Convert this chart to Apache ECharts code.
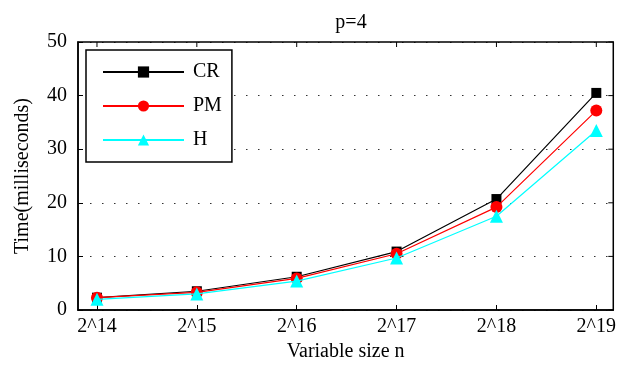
<!DOCTYPE html>
<html><head><meta charset="utf-8">
<script src="https://cdn.jsdelivr.net/npm/echarts@6/dist/echarts.min.js"></script>
<style>html,body{margin:0;padding:0;background:#fff}#c{width:619px;height:368px}</style>
</head><body><div id="c"></div>
<script>
var categories = ['2^14','2^15','2^16','2^17','2^18','2^19'];
var crValues = [2.3, 3.5, 6.2, 10.9, 20.7, 40.5];
var pmValues = [2.3, 3.3, 5.9, 10.5, 19.2, 37.2];
var hValues  = [2.0, 3.0, 5.4, 9.7, 17.5, 33.5];
var yTicks = [0, 10, 20, 30, 40, 50];

var font = 'Liberation Serif';
var xMin = -0.19, xMax = 5.17, yMin = 0, yMax = 50;
var idx = categories.map(function(_, i){ return i; });
function pts(arr){ return arr.map(function(v, i){ return [i, v]; }); }
function axLine(){ return {show: true, onZero: false, lineStyle: {color: '#000', width: 1.5}}; }
function tk(custom){
  var t = {show: true, inside: true, length: 5, lineStyle: {color: '#000', width: 1}};
  if (custom) t.customValues = custom;
  return t;
}

var chart = echarts.init(document.getElementById('c'));
chart.setOption({
  animation: false,
  title: {text: 'p=4', left: 346, textAlign: 'center', top: 8,
    textStyle: {fontFamily: font, fontSize: 20, fontWeight: 'normal', color: '#000'}},
  grid: {left: 78, right: 4, top: 42, bottom: 58},
  legend: {
    orient: 'vertical', left: 86, top: 50,
    padding: [12, 10, 12, 16],
    itemWidth: 81, itemHeight: 14, itemGap: 14,
    borderColor: '#000', borderWidth: 1.5, backgroundColor: '#fff',
    textStyle: {fontFamily: font, fontSize: 20, color: '#000', padding: [0,0,0,4]},
    data: ['CR', 'PM', 'H']
  },
  xAxis: [{
    type: 'value', min: xMin, max: xMax, position: 'bottom',
    axisLine: axLine(), axisTick: tk(idx),
    axisLabel: {customValues: idx, formatter: function(v){ return categories[Math.round(v)]; },
      fontFamily: font, fontSize: 20, color: '#000', margin: 7},
    splitLine: {show: false},
    name: 'Variable size n', nameLocation: 'middle', nameGap: 31,
    nameTextStyle: {fontFamily: font, fontSize: 20, color: '#000'}
  }],
  yAxis: [{
    type: 'value', min: yMin, max: yMax, splitNumber: 5, position: 'left',
    axisLine: axLine(), axisTick: tk(),
    axisLabel: {fontFamily: font, fontSize: 20, color: '#000', margin: 11,
      formatter: function(v){ return yTicks.indexOf(v) >= 0 ? String(v) : ''; }},
    splitLine: {show: true, lineStyle: {color: '#333', width: 1.2, type: [1.5, 10.5]}},
    name: 'Time(milliseconds)', nameLocation: 'middle', nameGap: 45,
    nameTextStyle: {fontFamily: font, fontSize: 20, color: '#000'}
  }],
  series: [{
    name: 'CR', type: 'line', data: pts(crValues), symbol: 'rect', symbolSize: 10,
    lineStyle: {color: '#000', width: 1.2}, itemStyle: {color: '#000'}, z: 3
  }, {
    name: 'PM', type: 'line', data: pts(pmValues), symbol: 'circle', symbolSize: 12,
    lineStyle: {color: '#ff0000', width: 1.2}, itemStyle: {color: '#ff0000'}, z: 4
  }, {
    name: 'H', type: 'line', data: pts(hValues), symbol: 'triangle', symbolSize: 13,
    lineStyle: {color: '#00ffff', width: 1.2}, itemStyle: {color: '#00ffff'}, z: 5
  }]
});

// Frame (top/right axis lines with inside ticks), placed through the chart's own scales
var f = {seriesIndex: 0};
var bl = chart.convertToPixel(f, [xMin, yMin]);
var tr = chart.convertToPixel(f, [xMax, yMax]);
var els = [{
  type: 'rect', silent: true, z: 10,
  shape: {x: bl[0], y: tr[1], width: tr[0] - bl[0], height: bl[1] - tr[1]},
  style: {fill: 'none', stroke: '#000', lineWidth: 1.5}
}];
idx.forEach(function(i){
  var p = chart.convertToPixel(f, [i, yMax]);
  els.push({type: 'line', silent: true, z: 10,
    shape: {x1: p[0], y1: p[1], x2: p[0], y2: p[1] + 5}, style: {stroke: '#000', lineWidth: 1}});
});
yTicks.forEach(function(v){
  var p = chart.convertToPixel(f, [xMax, v]);
  els.push({type: 'line', silent: true, z: 10,
    shape: {x1: p[0] - 5, y1: p[1], x2: p[0], y2: p[1]}, style: {stroke: '#000', lineWidth: 1}});
});
chart.setOption({graphic: {elements: els}});
</script></body></html>
